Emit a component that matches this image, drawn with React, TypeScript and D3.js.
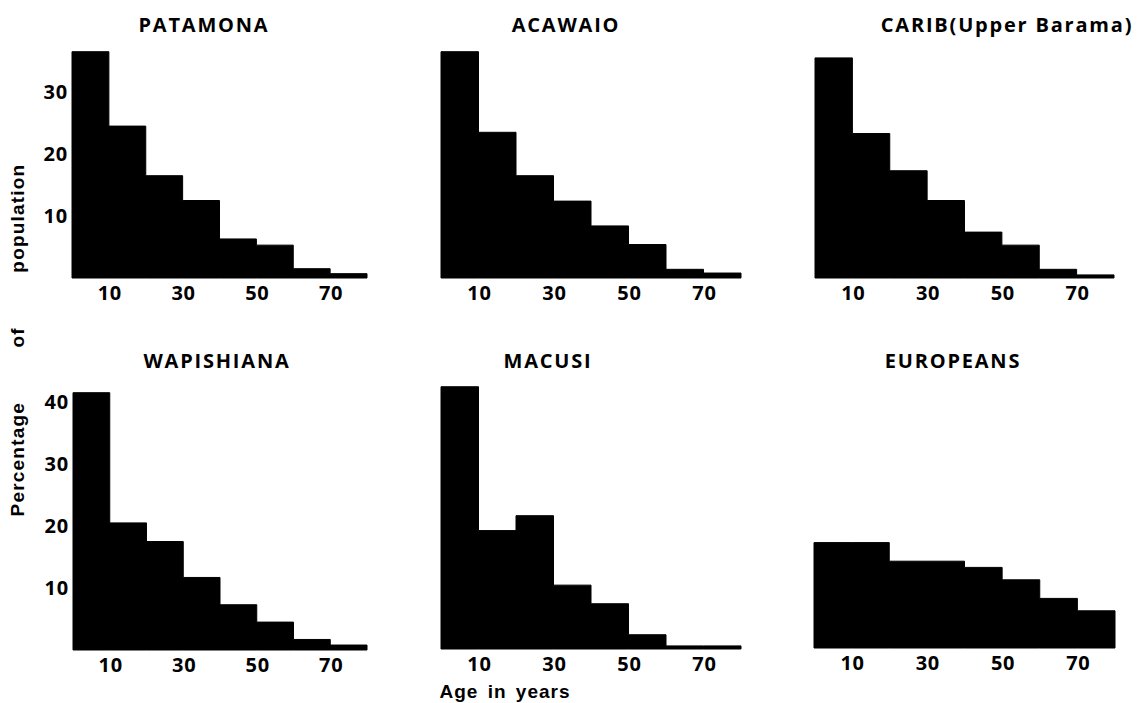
import React from "react";
import * as d3 from "d3";

// age bins: lower edge of each 10-year class
const binEdges = [0, 10, 20, 30, 40, 50, 60, 70];
const xTicks = [10, 30, 50, 70];
const yTicksTop = [10, 20, 30];
const yTicksBottom = [10, 20, 30, 40];

const patamona = [36.5, 24.5, 16.5, 12.5, 6.3, 5.3, 1.5, 0.7];
const acawaio = [36.5, 23.5, 16.5, 12.4, 8.4, 5.4, 1.4, 0.8];
const carib = [35.5, 23.3, 17.3, 12.5, 7.4, 5.3, 1.4, 0.5];
const wapishiana = [41.5, 20.5, 17.5, 11.7, 7.3, 4.5, 1.7, 0.8];
const macusi = [42.3, 19.1, 21.5, 10.3, 7.3, 2.3, 0.5, 0.5];
const europeans = [17, 17, 14, 14, 13, 11, 8, 6];

const W = 1143;
const H = 703;
const unitPx = 6.2; // px per percent

const titleFont = "'Open Sans', 'DejaVu Sans', sans-serif";
const labelFont = "'Liberation Sans', Arial, sans-serif";

type PanelProps = {
  title: string;
  values: number[];
  x0: number;
  x1: number;
  base: number;
  titleX: number;
  titleY: number;
  yTicks?: number[];
};

const Panel: React.FC<PanelProps> = ({ title, values, x0, x1, base, titleX, titleY, yTicks }) => {
  const x = d3.scaleLinear().domain([0, 80]).range([x0, x1]);
  const y = d3.scaleLinear().domain([0, 10]).range([base, base - unitPx * 10]);

  const pts: [number, number][] = binEdges.map((e, i) => [e, values[i]]);
  pts.push([80, values[values.length - 1]]);

  const area = d3
    .area<[number, number]>()
    .x(d => x(d[0]))
    .y0(y(0))
    .y1(d => y(d[1]))
    .curve(d3.curveStepAfter);

  return (
    <g>
      <path d={area(pts) || ""} fill="#000" stroke="#000" strokeWidth={1} strokeLinejoin="round" />
      {xTicks.map(t => (
        <text
          key={t}
          x={x(t) + 1}
          y={base + 22}
          textAnchor="middle"
          fontFamily={titleFont}
          fontWeight={700}
          fontSize={20}
          letterSpacing={0.8}
          fill="#000"
        >
          {t}
        </text>
      ))}
      {yTicks &&
        yTicks.map(t => (
          <text
            key={t}
            x={x0 - 4}
            y={y(t) + 7}
            textAnchor="end"
            fontFamily={titleFont}
            fontWeight={700}
            fontSize={20}
            letterSpacing={0.8}
            fill="#000"
          >
            {t}
          </text>
        ))}
      <text
        x={titleX}
        y={titleY}
        textAnchor="middle"
        fontFamily={titleFont}
        fontWeight={700}
        fontSize={20}
        letterSpacing={1.8}
        fill="#000"
      >
        {title}
      </text>
    </g>
  );
};

export default function App() {
  return (
    <svg
      width={W}
      height={H}
      viewBox={`0 0 ${W} ${H}`}
      style={{ position: "absolute", left: 0, top: 0, background: "#fff" }}
    >
      <Panel title="PATAMONA" values={patamona} x0={72} x1={367} base={278} titleX={204} titleY={32} yTicks={yTicksTop} />
      <Panel title="ACAWAIO" values={acawaio} x0={441} x1={741} base={278} titleX={566} titleY={32} />
      <Panel title="CARIB(Upper Barama)" values={carib} x0={815} x1={1114} base={278} titleX={1007} titleY={32} />
      <Panel title="WAPISHIANA" values={wapishiana} x0={73} x1={367} base={650} titleX={217} titleY={368} yTicks={yTicksBottom} />
      <Panel title="MACUSI" values={macusi} x0={441} x1={741} base={649} titleX={548} titleY={368} />
      <Panel title="EUROPEANS" values={europeans} x0={814} x1={1115} base={648} titleX={953} titleY={368} />

      <text
        transform="translate(24, 340) rotate(-90)"
        textAnchor="middle"
        fontFamily={labelFont}
        fontWeight={700}
        fontSize={19}
        letterSpacing={1.2}
        wordSpacing={48}
        fill="#000"
      >
        Percentage of population
      </text>
      <text
        x={505}
        y={698}
        textAnchor="middle"
        fontFamily={labelFont}
        fontWeight={700}
        fontSize={19}
        letterSpacing={1}
        wordSpacing={3}
        fill="#000"
      >
        Age in years
      </text>
    </svg>
  );
}
